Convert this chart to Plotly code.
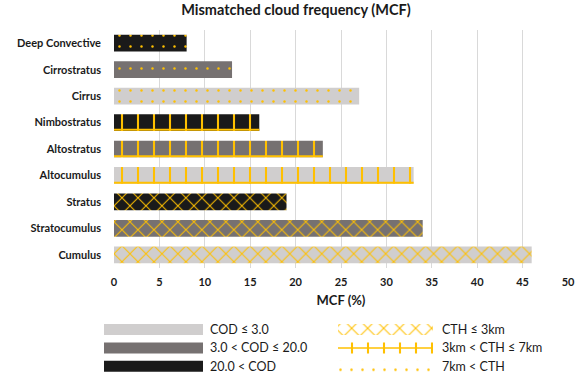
import plotly.graph_objects as go

# ---------------- data ----------------
categories = ["Deep Convective", "Cirrostratus", "Cirrus", "Nimbostratus", "Altostratus",
              "Altocumulus", "Stratus", "Stratocumulus", "Cumulus"]
mcf_values = [8, 13, 27, 16, 23, 33, 19, 34, 46]
cod_class = ["high", "mid", "low", "high", "mid", "low", "high", "mid", "low"]
cth_class = ["high", "high", "high", "mid", "mid", "mid", "low", "low", "low"]
x_ticks = [0, 5, 10, 15, 20, 25, 30, 35, 40, 45, 50]

cod_labels = ["COD ≤ 3.0", "3.0 < COD ≤ 20.0", "20.0 < COD"]
cod_keys = ["low", "mid", "high"]
cth_labels = ["CTH ≤ 3km", "3km < CTH ≤ 7km", "7km < CTH"]
cth_keys = ["low", "mid", "high"]

# ---------------- styles ----------------
COD_COLOR = {"low": "#d0cece", "mid": "#767171", "high": "#1a1a1a"}
YELLOW = "#ffc000"
CTH_PATTERN = {
    "low": dict(shape="x", size=11.3, solidity=0.17),
    "mid": dict(shape="|", size=16, solidity=0.13),
    "high": dict(shape=".", size=11, solidity=0.04),
}
FONT = "Lato"
TXT = "#1a1a1a"
BAR_W = 0.633
W, H = 581, 376


def px_x(a, b):
    return [a / W, b / W]


def px_y(top, bottom):
    return [1 - bottom / H, 1 - top / H]


fig = go.Figure()

# one trace per bar so each pattern keeps its own scalar colours
for i, (cat, v, cod, cth) in enumerate(zip(categories, mcf_values, cod_class, cth_class)):
    p = CTH_PATTERN[cth]
    fig.add_trace(go.Bar(
        x=[v], y=[i], orientation="h", width=BAR_W, name=cat,
        marker=dict(
            color=COD_COLOR[cod], line=dict(width=0),
            pattern=dict(shape=p["shape"], size=p["size"], solidity=p["solidity"],
                         bgcolor=COD_COLOR[cod], fgcolor=YELLOW, fgopacity=1,
                         fillmode="overlay"),
        ),
        showlegend=False, hovertemplate=cat + ": %{x}%<extra></extra>",
    ))

# bottom rule of the mid-level (3-7 km) grid pattern
lx, ly = [], []
for i, (v, c) in enumerate(zip(mcf_values, cth_class)):
    if c == "mid":
        yb = i + BAR_W / 2 - 0.04
        lx += [0, v, None]
        ly += [yb, yb, None]
fig.add_trace(go.Scatter(x=lx, y=ly, mode="lines", line=dict(color=YELLOW, width=2),
                         showlegend=False, hoverinfo="skip"))

# ---------------- custom legend (hidden subplot) ----------------
LEG_LEFT_BASE, LEG_LEFT_LEN = 0, 99
LEG_RIGHT_BASE, LEG_RIGHT_LEN = 234, 95
LEG_LEFT_TEXT, LEG_RIGHT_TEXT = 104, 336
rows = [0, 1, 2]
for r, k in zip(rows, cod_keys):
    fig.add_trace(go.Bar(
        x=[LEG_LEFT_LEN], base=[LEG_LEFT_BASE], y=[r], orientation="h", width=0.6,
        marker=dict(color=COD_COLOR[k], line=dict(width=0)),
        xaxis="x2", yaxis="y2", showlegend=False, hoverinfo="skip",
    ))
for r, k in zip(rows, cth_keys):
    p = CTH_PATTERN[k]
    fig.add_trace(go.Bar(
        x=[LEG_RIGHT_LEN], base=[LEG_RIGHT_BASE], y=[r], orientation="h", width=0.6,
        marker=dict(
            color="white", line=dict(width=0),
            pattern=dict(shape=p["shape"], size=p["size"], solidity=p["solidity"],
                         bgcolor="white", fgcolor=YELLOW, fgopacity=1, fillmode="overlay"),
        ),
        xaxis="x2", yaxis="y2", showlegend=False, hoverinfo="skip",
    ))
fig.add_trace(go.Scatter(
    x=[LEG_RIGHT_BASE, LEG_RIGHT_BASE + LEG_RIGHT_LEN], y=[1, 1], mode="lines",
    line=dict(color=YELLOW, width=1.5), xaxis="x2", yaxis="y2",
    showlegend=False, hoverinfo="skip",
))

annotations = []
for r, t in zip(rows, cod_labels):
    annotations.append(dict(x=LEG_LEFT_TEXT, y=r, xref="x2", yref="y2", text=t, showarrow=False,
                            xanchor="left", yanchor="middle",
                            font=dict(family=FONT, size=12.5, color=TXT)))
for r, t in zip(rows, cth_labels):
    annotations.append(dict(x=LEG_RIGHT_TEXT, y=r, xref="x2", yref="y2", text=t, showarrow=False,
                            xanchor="left", yanchor="middle",
                            font=dict(family=FONT, size=12.5, color=TXT)))

fig.update_layout(
    width=W, height=H,
    margin=dict(l=0, r=0, t=0, b=0, autoexpand=False),
    paper_bgcolor="white", plot_bgcolor="white",
    barmode="overlay",
    title=dict(text="<b>Mismatched cloud frequency (MCF)</b>", x=296 / W, xanchor="center",
               xref="paper", y=1 - 10 / H, yanchor="middle", yref="container",
               font=dict(family=FONT, size=14.5, color=TXT)),
    xaxis=dict(domain=px_x(114, 568), range=[0, 50], tickvals=x_ticks,
               ticktext=[f"<b>{v}</b>" for v in x_ticks], anchor="y",
               showgrid=True, gridcolor="#d9d9d9", gridwidth=1, zeroline=False,
               showline=False, ticks="", ticklabelstandoff=6, automargin=False,
               tickfont=dict(family=FONT, size=11, color=TXT),
               title=dict(text="<b>MCF (%)</b>", standoff=8,
                          font=dict(family=FONT, size=13, color=TXT))),
    yaxis=dict(domain=px_y(30, 268), range=[len(categories) - 0.5, -0.5], tickvals=list(range(len(categories))),
               ticktext=[f"<b>{c}</b>" for c in categories], anchor="x",
               showgrid=False, zeroline=False, showline=False, ticks="",
               ticklabelstandoff=12, automargin=False,
               tickfont=dict(family=FONT, size=11, color=TXT)),
    xaxis2=dict(domain=px_x(104, 574), range=[0, 470], visible=False, anchor="y2"),
    yaxis2=dict(domain=px_y(320.3, 375.5), range=[2.5, -0.5], visible=False, anchor="x2"),
    annotations=annotations,
)

fig.write_html("out.html", config={"displayModeBar": False},
               post_script="document.body.style.margin='0';")
